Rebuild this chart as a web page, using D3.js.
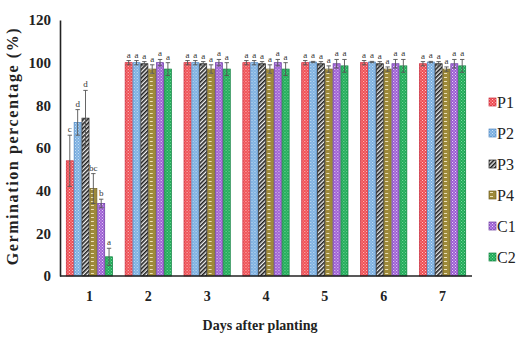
<!DOCTYPE html>
<html>
<head>
<meta charset="utf-8">
<script src="https://cdn.jsdelivr.net/npm/d3@7"></script>
<style>
  body { margin: 0; background: #fff; }
  text { font-family: "Liberation Serif", "DejaVu Serif", serif; }
</style>
</head>
<body>
<svg id="chart" width="518" height="337"></svg>
<script>
// data
var days = ["1", "2", "3", "4", "5", "6", "7"];
var series = ["P1", "P2", "P3", "P4", "C1", "C2"];
var values = [
  [54, 72, 74, 41, 34, 9],
  [100, 100, 99.5, 97, 100, 97],
  [100, 100, 99.5, 97, 100, 97],
  [100, 100, 99.5, 97, 100, 97],
  [100, 100.3, 99.5, 97, 99.5, 98.5],
  [100, 100.3, 99.5, 97, 99.5, 98.5],
  [99.5, 100.3, 99.5, 97, 99.5, 98.5]
];
var errors = [
  [12, 6, 13, 7, 2, 4],
  [1, 1, 1, 2, 1.5, 3],
  [1, 1, 1, 2, 1.5, 3],
  [1, 1, 1, 2, 1.5, 3],
  [1, 0.3, 1, 1.5, 2, 3],
  [1, 0.3, 1, 1, 2, 3],
  [1, 0.3, 1, 1, 2, 3]
];
var letters = [
  ["c", "d", "d", "bc", "b", "a"],
  ["a", "a", "a", "a", "a", "a"],
  ["a", "a", "a", "a", "a", "a"],
  ["a", "a", "a", "a", "a", "a"],
  ["a", "a", "a", "a", "a", "a"],
  ["a", "a", "a", "a", "a", "a"],
  ["a", "a", "a", "a", "a", "a"]
];
var yTicks = [0, 20, 40, 60, 80, 100, 120];

var svg = d3.select("#chart");

// fill patterns, one per series
var defs = svg.append("defs");
function dots(id, bg, fg, size) {
  var p = defs.append("pattern").attr("id", id)
    .attr("patternUnits", "userSpaceOnUse").attr("width", size).attr("height", size);
  p.append("rect").attr("width", size).attr("height", size).attr("fill", bg);
  p.append("rect").attr("x", 0).attr("y", 0).attr("width", 1).attr("height", 1).attr("fill", fg);
  p.append("rect").attr("x", size / 2).attr("y", size / 2).attr("width", 1).attr("height", 1).attr("fill", fg);
}
dots("pP1", "#ee4a50", "#ffc9c9", 3);
dots("pP2", "#79aee0", "#cfe4f6", 3);
var p3 = defs.append("pattern").attr("id", "pP3")
  .attr("patternUnits", "userSpaceOnUse").attr("width", 3).attr("height", 3)
  .attr("patternTransform", "rotate(45)");
p3.append("rect").attr("width", 3).attr("height", 3).attr("fill", "#f2f2f2");
p3.append("rect").attr("width", 1.6).attr("height", 3).attr("fill", "#1e1e1e");
var p4 = defs.append("pattern").attr("id", "pP4")
  .attr("patternUnits", "userSpaceOnUse").attr("width", 6).attr("height", 4);
p4.append("rect").attr("width", 6).attr("height", 4).attr("fill", "#9e8a3a");
p4.append("rect").attr("x", 1).attr("y", 1).attr("width", 3).attr("height", 1).attr("fill", "#ece2b8");
dots("pC1", "#9b5ad3", "#eadcf7", 3);
dots("pC2", "#1faa57", "#7fdaa3", 3);

var strokes = {P1: "#c8283a", P2: "#4f86c0", P3: "#222", P4: "#6f5f22", C1: "#6a3aa0", C2: "#118040"};

var margin = {left: 60, top: 20, bottom: 276, right: 472};

var x = d3.scaleBand().domain(days).range([margin.left, margin.right])
  .paddingInner(0.2).paddingOuter(0.1);
var xs = d3.scaleBand().domain(series).range([0, x.bandwidth()]);
var y = d3.scaleLinear().domain([0, 120]).range([margin.bottom, margin.top]);

// bars
var groups = svg.selectAll("g.day").data(days).enter().append("g")
  .attr("class", "day")
  .attr("transform", function(d) { return "translate(" + x(d) + ",0)"; });

groups.each(function(day, i) {
  var g = d3.select(this);
  var rows = series.map(function(s, j) {
    return {s: s, v: values[i][j], e: errors[i][j], l: letters[i][j]};
  });
  g.selectAll("rect").data(rows).enter().append("rect")
    .attr("x", function(d) { return xs(d.s) + 0.4; })
    .attr("y", function(d) { return y(d.v); })
    .attr("width", xs.bandwidth() - 0.8)
    .attr("height", function(d) { return y(0) - y(d.v); })
    .attr("fill", function(d) { return "url(#p" + d.s + ")"; })
    .attr("stroke", function(d) { return strokes[d.s]; })
    .attr("stroke-width", 0.7);

  // error bars
  var eb = g.selectAll("g.err").data(rows).enter().append("g").attr("class", "err")
    .attr("stroke", "#555").attr("stroke-width", 0.9);
  eb.append("line")
    .attr("x1", function(d) { return xs(d.s) + xs.bandwidth() / 2; })
    .attr("x2", function(d) { return xs(d.s) + xs.bandwidth() / 2; })
    .attr("y1", function(d) { return y(d.v - d.e); })
    .attr("y2", function(d) { return y(d.v + d.e); });
  eb.append("line")
    .attr("x1", function(d) { return xs(d.s) + xs.bandwidth() / 2 - 2.2; })
    .attr("x2", function(d) { return xs(d.s) + xs.bandwidth() / 2 + 2.2; })
    .attr("y1", function(d) { return y(d.v + d.e); })
    .attr("y2", function(d) { return y(d.v + d.e); });
  eb.append("line")
    .attr("x1", function(d) { return xs(d.s) + xs.bandwidth() / 2 - 2.2; })
    .attr("x2", function(d) { return xs(d.s) + xs.bandwidth() / 2 + 2.2; })
    .attr("y1", function(d) { return y(d.v - d.e); })
    .attr("y2", function(d) { return y(d.v - d.e); });

  // significance letters
  g.selectAll("text.sig").data(rows).enter().append("text").attr("class", "sig")
    .attr("x", function(d) { return xs(d.s) + xs.bandwidth() / 2; })
    .attr("y", function(d) { return y(d.v + d.e) - 3; })
    .attr("text-anchor", "middle")
    .attr("font-size", 9)
    .attr("fill", "#333")
    .text(function(d) { return d.l; });
});

// axes
var xAxis = svg.append("g").attr("transform", "translate(0," + y(0) + ")")
  .call(d3.axisBottom(x).tickSize(0).tickPadding(15));
xAxis.select(".domain").attr("stroke", "#222").attr("stroke-width", 1.6)
  .attr("d", "M" + margin.left + ",0H" + margin.right);
xAxis.selectAll("text").attr("font-size", 14).attr("font-weight", "bold")
  .attr("font-family", "Liberation Serif, serif").attr("fill", "#222");

var yAxis = svg.append("g").attr("transform", "translate(" + margin.left + ",0)")
  .call(d3.axisLeft(y).tickValues(yTicks).tickSize(0).tickPadding(9));
yAxis.select(".domain").attr("stroke", "#222").attr("stroke-width", 1.6);
yAxis.selectAll("text").attr("font-size", 15).attr("font-weight", "bold")
  .attr("font-family", "Liberation Serif, serif").attr("fill", "#222");

// titles
svg.append("text")
  .attr("x", (margin.left + margin.right) / 2 - 6).attr("y", 330)
  .attr("text-anchor", "middle").attr("font-size", 14).attr("font-weight", "bold")
  .attr("fill", "#222").text("Days after planting");
svg.append("text")
  .attr("transform", "translate(18," + 146 + ") rotate(-90)")
  .attr("text-anchor", "middle").attr("font-size", 16).attr("font-weight", "bold")
  .attr("fill", "#222").attr("letter-spacing", 1.6)
  .text("Germination percentage (%)");

// legend
var legend = svg.selectAll("g.leg").data(series).enter().append("g").attr("class", "leg")
  .attr("transform", function(d, i) { return "translate(489," + (102 + i * 31) + ")"; });
legend.append("rect").attr("x", 0).attr("y", -4).attr("width", 7).attr("height", 8)
  .attr("fill", function(d) { return "url(#p" + d + ")"; })
  .attr("stroke", function(d) { return strokes[d]; }).attr("stroke-width", 0.7);
legend.append("text").attr("x", 8).attr("y", 5.5).attr("font-size", 16)
  .attr("fill", "#222").text(function(d) { return d; });
</script>
</body>
</html>
